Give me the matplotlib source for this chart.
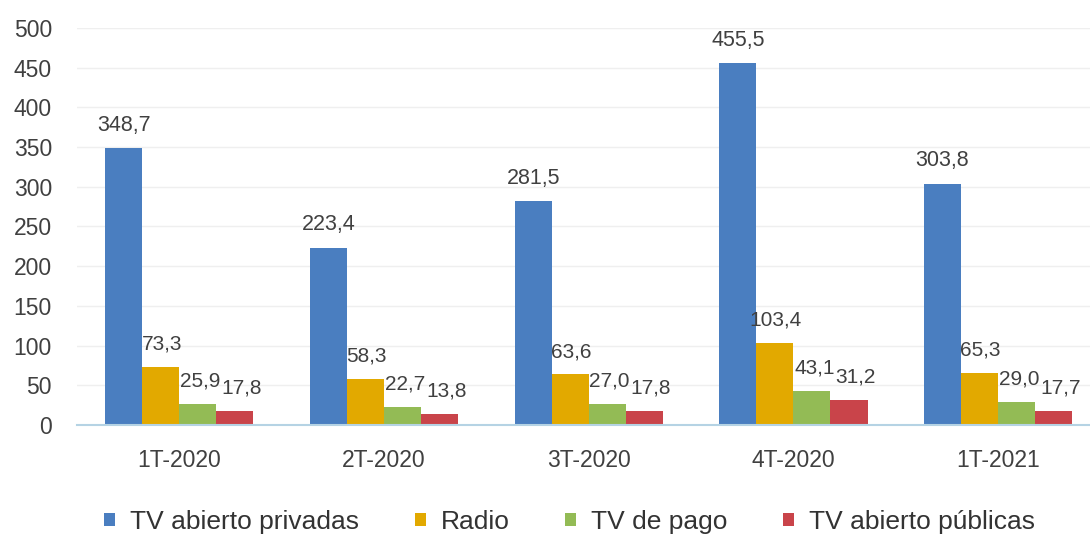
import matplotlib.pyplot as plt
import numpy as np

# datos
categorias = ['1T-2020', '2T-2020', '3T-2020', '4T-2020', '1T-2021']
tv_privadas = [348.7, 223.4, 281.5, 455.5, 303.8]
radio = [73.3, 58.3, 63.6, 103.4, 65.3]
tv_pago = [25.9, 22.7, 27.0, 43.1, 29.0]
tv_publicas = [17.8, 13.8, 17.8, 31.2, 17.7]

series = [tv_privadas, radio, tv_pago, tv_publicas]
nombres = ['TV abierto privadas', 'Radio', 'TV de pago', 'TV abierto públicas']
colores = ['#4A7EC0', '#E2A900', '#93BB55', '#C9444A']

plt.rcParams['font.family'] = ['Liberation Sans', 'DejaVu Sans']
plt.rcParams['font.size'] = 16

fig = plt.figure(figsize=(10.9, 5.36), dpi=100)
ax = fig.add_axes([0.0706, 0.2071, 0.939, 0.7407])

x = np.arange(len(categorias))
ancho = 0.181
desplaz = [0, 0.005, 0.012, 0.032]  # etiquetas algo corridas a la derecha
for i, (vals, nombre, color) in enumerate(zip(series, nombres, colores)):
    pos = x + (i - 1.5) * ancho
    barras = ax.bar(pos, vals, ancho, color=color, label=nombre, zorder=3)
    for b, v in zip(barras, vals):
        ax.text(b.get_x() + b.get_width() / 2 + desplaz[i], v + 22,
                f'{v:.1f}'.replace('.', ','), ha='center', va='baseline',
                fontsize=15.5 if i == 0 else 15, color='#404040', zorder=4)

ax.set_xlim(-0.5, len(categorias) - 0.5)
ax.set_ylim(0, 500)
ax.set_yticks(np.arange(0, 501, 50))
ax.set_xticks(x)
ax.set_xticklabels(categorias)
ax.grid(axis='y', color='#EFEFEF', linewidth=1, zorder=0)
for s in ['top', 'right', 'left']:
    ax.spines[s].set_visible(False)
ax.spines['bottom'].set_color('#B5D3E4')
ax.spines['bottom'].set_linewidth(1.5)
ax.spines['bottom'].set_zorder(5)
ax.tick_params(length=0, colors='#404040', labelsize=16.5)
ax.tick_params(axis='y', pad=18)
ax.tick_params(axis='x', pad=17)

fig.legend(loc='center', bbox_to_anchor=(0.5225, 0.026), ncol=4, frameon=False,
           handlelength=0.42, handleheight=0.42, handletextpad=0.57,
           columnspacing=2.1, fontsize=19, labelcolor='#333333')

plt.savefig('out.png', dpi=100)
